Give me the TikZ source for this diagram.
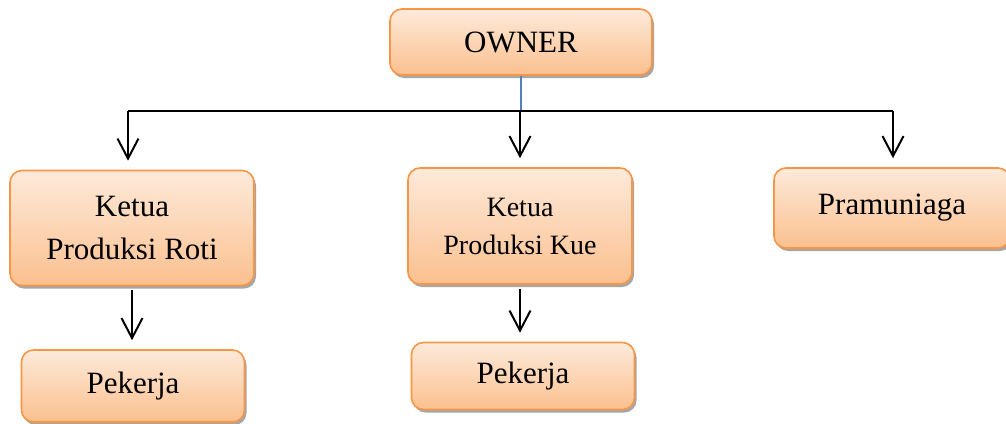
\documentclass[tikz,border=0pt]{standalone}
\usepackage{fontspec}
\setmainfont{Liberation Serif}
\usetikzlibrary{arrows.meta,shadows}
\definecolor{boxtop}{RGB}{253,234,218}
\definecolor{boxbottom}{RGB}{251,192,143}
\definecolor{boxline}{RGB}{247,150,70}
\definecolor{linkblue}{RGB}{79,129,189}

\begin{document}
\begin{tikzpicture}[x=0.5pt,y=-0.5pt,
  jabatan/.style={draw=boxline, line width=0.8pt, rounded corners=6pt,
    top color=boxtop, bottom color=boxbottom, align=center, inner sep=0pt,
    font=\fontsize{15.5}{21.5}\selectfont,
    drop shadow={shadow xshift=1pt, shadow yshift=-1.5pt, fill=black, opacity=0.35}},
  panah/.style={line width=1pt, -{Straight Barb[length=10pt,width=10.5pt]}, shorten >=4.5pt}]
\useasboundingbox (0,0) rectangle (1006,423);

\node[jabatan, minimum width=131pt, minimum height=33pt] (owner) at (521,42) {OWNER};
\node[jabatan, minimum width=122pt, minimum height=57.5pt] (ketuaroti) at (132,228) {Ketua\\Produksi Roti};
\node[jabatan, minimum width=112pt, minimum height=58pt, font=\fontsize{14}{19}\selectfont] (ketuakue) at (520,226) {Ketua\\Produksi Kue};
\node[jabatan, minimum width=118pt, minimum height=40pt] (pramu) at (892,208) {Pramuniaga};
\node[jabatan, minimum width=111.5pt, minimum height=36pt] (pekroti) at (133,386) {Pekerja};
\node[jabatan, minimum width=111.5pt, minimum height=33.5pt] (pekkue) at (523,376) {Pekerja};

\coordinate (bus) at (520,111);
\coordinate (busroti) at (128,111);
\coordinate (buspramu) at (893,111);

\draw[linkblue, line width=0.75pt] (owner.south) -- (owner.south |- bus);
\draw[line width=1pt] (busroti) -- (buspramu);
\draw[panah] (busroti) -- (busroti |- ketuaroti.north);
\draw[panah] (bus) -- (bus |- ketuakue.north);
\draw[panah] (buspramu) -- (buspramu |- pramu.north);
\draw[panah, shorten <=2pt] (ketuaroti.south) -- (ketuaroti.south |- pekroti.north);
\draw[panah, shorten <=2pt] (ketuakue.south) -- (ketuakue.south |- pekkue.north);
\end{tikzpicture}
\end{document}
